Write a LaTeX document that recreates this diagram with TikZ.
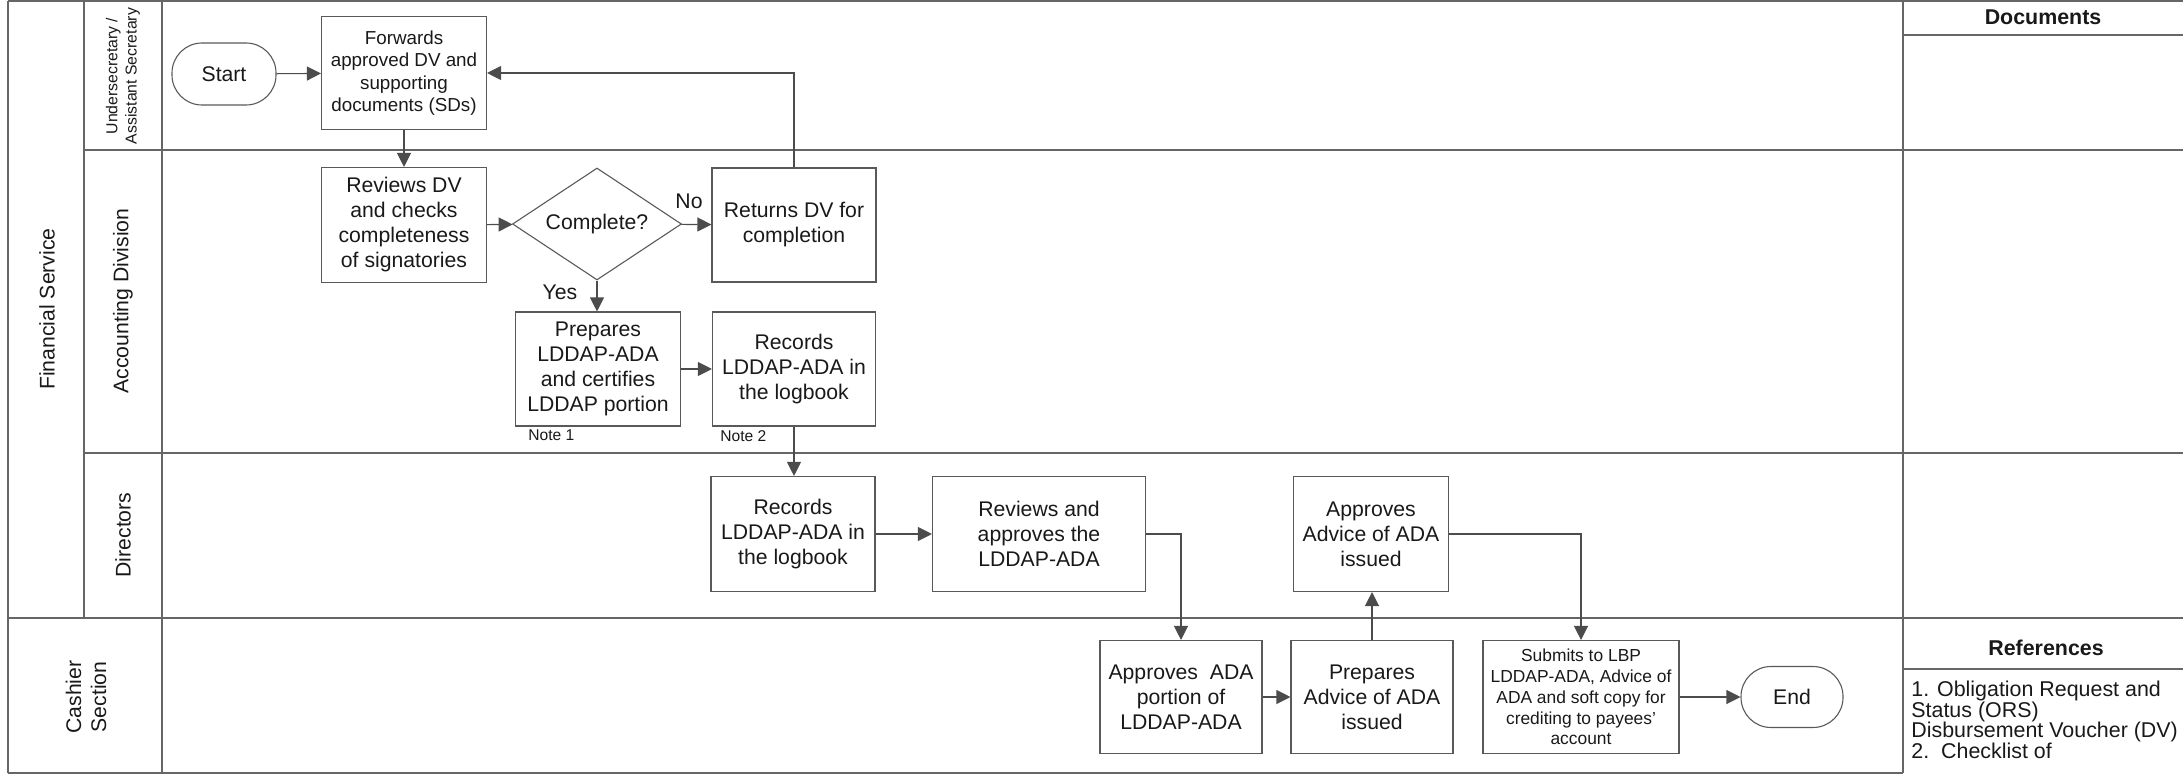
\documentclass[tikz,border=0pt]{standalone}
\usepackage{fontspec}
\setmainfont{Liberation Sans}
\usetikzlibrary{shapes.geometric,arrows.meta}
\begin{document}
\begin{tikzpicture}[x=0.5pt,y=-0.5pt,
  ln/.style={draw=black!60, line width=0.55pt},
  box/.style={draw=black!65, line width=0.55pt, align=center, inner sep=1pt, text=black!90, font=\fontsize{10.6}{12.5}\selectfont},
  pill/.style={box, rounded corners=15pt},
  dia/.style={box, diamond, aspect=1.5, inner sep=0pt, minimum width=84.5pt, minimum height=56pt},
  flow/.style={draw=black!70, line width=0.55pt, -{Triangle[length=7pt,width=7pt]}},
  lbl/.style={font=\fontsize{10.6}{12.5}\selectfont, text=black!90, inner sep=0pt},
  note/.style={font=\fontsize{7.8}{9}\selectfont, text=black!90, inner sep=0pt, anchor=west},
  hdr/.style={font=\bfseries\fontsize{10.7}{12}\selectfont, text=black!90, inner sep=0pt}
]
\useasboundingbox (0,0) rectangle (2183,775);

% lane grid
\draw[ln] (8,1) -- (2183,1);
\draw[ln] (8,1) -- (8,773);
\draw[ln] (84,1) -- (84,618);
\draw[ln] (162,1) -- (162,773);
\draw[ln] (1903,1) -- (1903,773);
\draw[ln] (84,150) -- (2183,150);
\draw[ln] (84,453) -- (2183,453);
\draw[ln] (8,618) -- (2183,618);
\draw[ln] (8,773) -- (1903,773);
\draw[ln] (1903,35) -- (2183,35);
\draw[ln] (1903,669) -- (2183,669);

% lane labels
\node[lbl, rotate=90] (fs) at (47,309) {Financial Service};
\node[lbl, rotate=90, align=center, font=\fontsize{7.9}{9.6}\selectfont] (us) at (123,76) {Undersecretary /\\Assistant Secretary};
\node[lbl, rotate=90] (acc) at (123,301) {Accounting Division};
\node[lbl, rotate=90] (dir) at (123,535) {Directors};
\node[lbl, rotate=90, align=center] (cs) at (86,697) {Cashier\\Section};

% right column
\node[hdr] (doc) at (2043,17) {Documents};
\node[hdr] (refs) at (2046,648) {References};
\node[inner sep=0pt, anchor=north west, align=left, text=black!90, font=\fontsize{10.7}{10.2}\selectfont] (reflist) at (1911,681)
  {1. Obligation Request and\\Status (ORS)\\Disbursement Voucher (DV)\\2.\ \ Checklist of};

% flow nodes
\node[pill, minimum width=52pt, minimum height=31pt] (start) at (224,74) {Start};
\node[box, minimum width=82.5pt, minimum height=56.5pt, font=\fontsize{9.4}{11.2}\selectfont] (fwd) at (404,73) {Forwards\\approved DV and\\supporting\\documents (SDs)};
\node[box, minimum width=82.5pt, minimum height=57.5pt] (rev) at (404,225) {Reviews DV\\and checks\\completeness\\of signatories};
\node[dia] (cmp) at (597,224) {Complete?};
\node[box, minimum width=82pt, minimum height=57pt] (ret) at (794,225) {Returns DV for\\completion};
\node[box, minimum width=82.5pt, minimum height=57pt] (prep) at (598,369) {Prepares\\LDDAP-ADA\\and certifies\\LDDAP portion};
\node[box, minimum width=81.5pt, minimum height=57pt] (rec1) at (794,369) {Records\\LDDAP-ADA in\\the logbook};
\node[box, minimum width=82pt, minimum height=57.5pt] (rec2) at (793,534) {Records\\LDDAP-ADA in\\the logbook};
\node[box, minimum width=106.5pt, minimum height=57.5pt] (revap) at (1039,534) {Reviews and\\approves the\\LDDAP-ADA};
\node[box, minimum width=77.5pt, minimum height=57.5pt] (apradv) at (1371,534) {Approves\\Advice of ADA\\issued};
\node[box, minimum width=81pt, minimum height=56.5pt] (aprada) at (1181,697) {Approves\ \ ADA\\portion of\\LDDAP-ADA};
\node[box, minimum width=81pt, minimum height=56.5pt] (prepadv) at (1372,697) {Prepares\\Advice of ADA\\issued};
\node[box, minimum width=98pt, minimum height=56.5pt, font=\fontsize{8.7}{10.4}\selectfont] (sub) at (1581,697) {Submits to LBP\\LDDAP-ADA, Advice of\\ADA and soft copy for\\crediting to payees'\\account};
\node[pill, minimum width=51pt, minimum height=30.5pt] (end) at (1792,697) {End};

% labels
\node[lbl] (no) at (689,201) {No};
\node[lbl] (yes) at (560,292) {Yes};
\node[note] (n1) at (528,435) {Note 1};
\node[note] (n2) at (720,436) {Note 2};

% connectors
\draw[flow] (start) -- (fwd);
\draw[flow] (fwd) -- (rev);
\draw[flow] (rev) -- (cmp);
\draw[flow] (cmp) -- (ret);
\draw[flow] (ret.north) |- (fwd.east);
\draw[flow] (cmp.south) -- (cmp.south |- prep.north);
\draw[flow] (prep) -- (rec1);
\draw[flow] (rec1.south) -- (rec1.south |- rec2.north);
\draw[flow] (rec2) -- (revap);
\draw[flow] (revap.east) -| (aprada.north);
\draw[flow] (aprada) -- (prepadv);
\draw[flow] (prepadv.north) -- (prepadv.north |- apradv.south);
\draw[flow] (apradv.east) -| (sub.north);
\draw[flow] (sub) -- (end);
\end{tikzpicture}
\end{document}
